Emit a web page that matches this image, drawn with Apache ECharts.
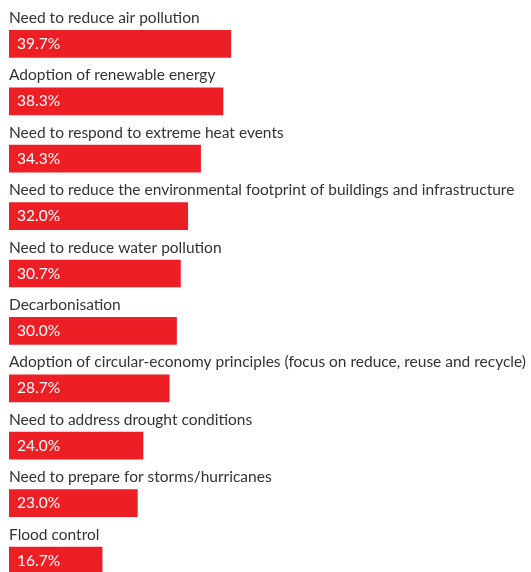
<!DOCTYPE html>
<html>
<head>
<meta charset="utf-8">
<script src="https://cdn.jsdelivr.net/npm/echarts@6/dist/echarts.min.js"></script>
<style>
  html, body { margin: 0; padding: 0; background: #ffffff; }
  #chart { width: 531px; height: 572px; }
</style>
</head>
<body>
<div id="chart"></div>
<script>
// Drivers, in the order they are listed from top to bottom
const categories = [
  'Need to reduce air pollution',
  'Adoption of renewable energy',
  'Need to respond to extreme heat events',
  'Need to reduce the environmental footprint of buildings and infrastructure',
  'Need to reduce water pollution',
  'Decarbonisation',
  'Adoption of circular-economy principles (focus on reduce, reuse and recycle)',
  'Need to address drought conditions',
  'Need to prepare for storms/hurricanes',
  'Flood control'
];

// Share of respondents, %
const shares = [39.7, 38.3, 34.3, 32.0, 30.7, 30.0, 28.7, 24.0, 23.0, 16.7];

const FONT = 'Lato';
const chart = echarts.init(document.getElementById('chart'), null, { renderer: 'canvas' });

chart.setOption({
  animation: false,
  backgroundColor: '#ffffff',
  // the last row runs past the bottom edge, so let the grid overflow
  grid: { left: 9, top: 15.2, width: 503.6, height: 574, outerBoundsMode: 'none', containLabel: false },
  xAxis: {
    type: 'value',
    min: 0,
    max: 90,
    show: false
  },
  yAxis: {
    type: 'category',
    data: categories,
    inverse: true,
    axisLine: { show: false },
    axisTick: { show: false },
    splitLine: { show: false },
    axisLabel: {
      inside: true,
      margin: 0,
      color: '#333333',
      fontFamily: FONT,
      fontSize: 15.5,
      lineHeight: 18,
      verticalAlign: 'bottom',
      padding: [0, 0, 17, 0]
    }
  },
  series: [{
    type: 'bar',
    data: shares,
    barWidth: 27.7,
    itemStyle: { color: '#ed1f24' },
    label: {
      show: true,
      position: 'insideLeft',
      distance: 8,
      color: '#ffffff',
      fontFamily: FONT,
      fontSize: 15.5,
      padding: [2, 0, 0, 0],
      formatter: p => p.value.toFixed(1) + '%'
    }
  }]
});
</script>
</body>
</html>
